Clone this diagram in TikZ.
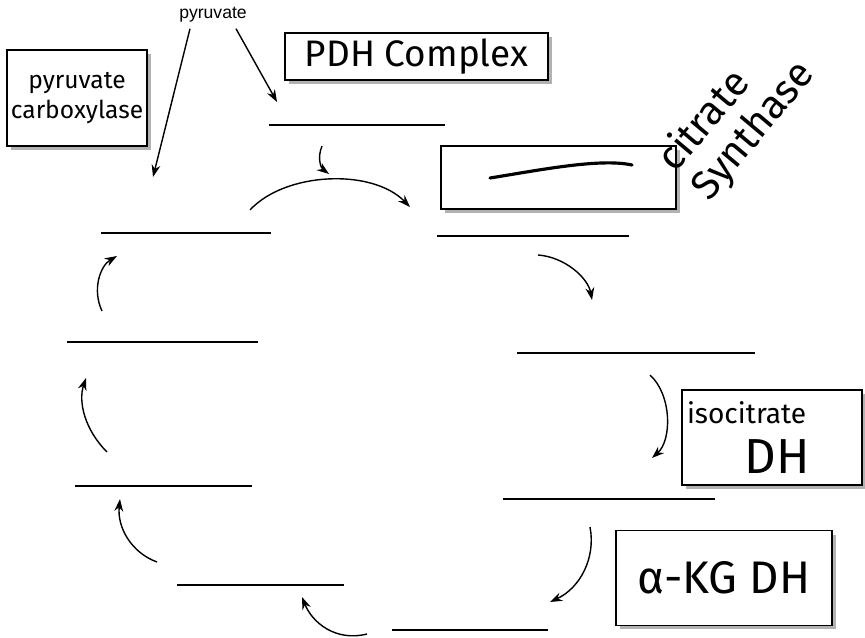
\documentclass[tikz,border=0pt]{standalone}
\usepackage{fontspec}
\setmainfont{Fira Sans}
\newfontfamily\printfont{Liberation Sans}
\usetikzlibrary{shapes.geometric, arrows.meta, shadows}
\tikzstyle{enzyme} = [rectangle, draw=black, line width=1.1pt, fill=white, inner sep=2pt, text centered, general shadow={fill=gray!60, draw=none, shadow xshift=0.08cm, shadow yshift=-0.08cm}]
\tikzstyle{blank} = [rectangle, fill=black, minimum height=1.1pt, inner sep=0pt]
\tikzstyle{arrow} = [line width=0.8pt,->,>={Stealth[length=7pt,width=5pt]}]

\begin{document}
\begin{tikzpicture}[x=0.02cm, y=-0.02cm]
  \useasboundingbox (0,0) rectangle (865,638);

  \node (pyr) [font=\printfont\fontsize{10}{12}\selectfont] at (213,15) {pyruvate};

  % enzymes
  \node (pcbox) [enzyme, minimum width=2.8cm, minimum height=1.92cm, align=center, font=\fontsize{14}{17}\selectfont] at (77,98) {pyruvate\\carboxylase};
  \node (pdhbox) [enzyme, minimum width=5.26cm, minimum height=0.94cm, font=\fontsize{21}{24}\selectfont] at (416.5,56.5) {PDH Complex};
  \node (csbox) [enzyme, minimum width=4.7cm, minimum height=1.26cm] at (558.5,177.5) {};
  \node (csname) [rotate=50, align=left, font=\fontsize{23}{25}\selectfont] at (737,117) {citrate\\Synthase};
  \node (idhbox) [enzyme, minimum width=3.6cm, minimum height=1.9cm, text width=3.4cm, align=left, font=\fontsize{28}{28}\selectfont] at (772,437.5) {{\fontsize{16}{18}\selectfont isocitrate}\\\hspace*{1.15cm}DH};
  \node (akgdhbox) [enzyme, minimum width=4.32cm, minimum height=1.9cm, font=\fontsize{26}{30}\selectfont] at (724,578) {α-KG DH};

  % blanks
  \node (acoa) [blank, minimum width=3.52cm] at (357,125) {};
  \node (cit) [blank, minimum width=3.84cm] at (533,236) {};
  \node (icit) [blank, minimum width=4.76cm] at (636,353) {};
  \node (akg) [blank, minimum width=4.24cm] at (609,499) {};
  \node (sucoa) [blank, minimum width=3.12cm] at (470,630) {};
  \node (succ) [blank, minimum width=3.34cm] at (260.5,585) {};
  \node (fum) [blank, minimum width=3.54cm] at (163.5,486) {};
  \node (mal) [blank, minimum width=3.82cm] at (162.5,342) {};
  \node (oaa) [blank, minimum width=3.40cm] at (186,233) {};

  \coordinate (tooaa) at (153,177);
  \coordinate (toacoa) at (277,102);

  \draw[arrow] ([xshift=-0.46cm]pyr.south) -- (tooaa);
  \draw[arrow] ([xshift=0.46cm]pyr.south) -- (toacoa);

  \draw[line width=1.8pt, line cap=round] (490,178) .. controls (540,170) and (600,158) .. (632,165);

  \draw[arrow] (250,210) .. controls (285,172) and (372,168) .. (410,207);
  \draw[arrow] (322,146) .. controls (317,158) and (321,168) .. (329,174);
  \draw[arrow] (538,255) .. controls (565,257) and (588,278) .. (592,300);
  \draw[arrow] (650,375) .. controls (672,395) and (672,440) .. (652,458);
  \draw[arrow] (590,527) .. controls (596,558) and (580,588) .. (550,602);
  \draw[arrow] (367,634) .. controls (335,642) and (312,622) .. (302,597);
  \draw[arrow] (157,562) .. controls (132,553) and (117,528) .. (120,499);
  \draw[arrow] (107,452) .. controls (85,430) and (78,402) .. (86,378);
  \draw[arrow] (102,311) .. controls (92,290) and (100,266) .. (117,256);
\end{tikzpicture}
\end{document}
